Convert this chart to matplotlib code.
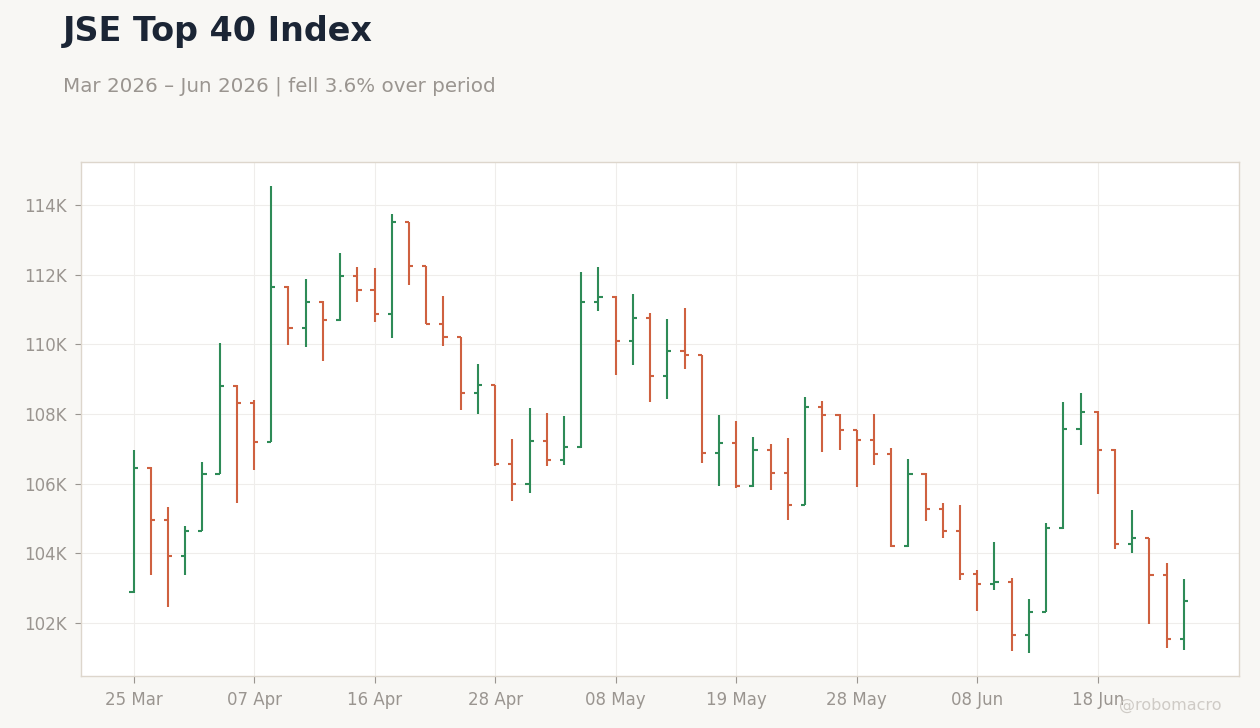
import numpy as np
import pandas as pd
import matplotlib
matplotlib.use("Agg")
import matplotlib.pyplot as plt
from matplotlib.ticker import FuncFormatter

# trading days, JSE holidays removed
start_date = "2026-03-25"
end_date = "2026-06-25"
holidays = ["2026-04-03", "2026-04-06", "2026-04-27", "2026-05-01", "2026-06-16"]

opens = [102890, 106460, 104960, 103920, 104650, 106280, 108810, 108330, 107200, 111660,
         110460, 111230, 110690, 111950, 111550, 110860, 113500, 112240, 110590, 110200,
         108590, 108820, 106570, 106000, 107240, 106690, 107040, 111230, 111350, 110110,
         110770, 109090, 109820, 109690, 106880, 107170, 105920, 106960, 106300, 105400,
         108200, 107970, 107540, 107250, 106850, 104200, 106270, 105260, 104630, 103420,
         103130, 103190, 101660, 102330, 104720, 107570, 108060, 106960, 104280, 104430,
         103390, 101550]
highs = [106970, 106470, 105320, 104800, 106620, 110030, 108820, 108400, 114560, 111670,
         111880, 111240, 112630, 112220, 112190, 113750, 113510, 112250, 111400, 110210,
         109440, 108830, 107290, 108180, 108030, 107950, 112080, 112230, 111390, 111440,
         110900, 110730, 111050, 109700, 107960, 107790, 107330, 107130, 107300, 108480,
         108370, 108010, 107550, 107990, 107030, 106720, 106320, 105460, 105400, 103530,
         104330, 103290, 102690, 104880, 108340, 108600, 108100, 107010, 105250, 104440,
         103730, 103270]
lows = [102870, 103390, 102470, 103390, 104640, 106270, 105440, 106400, 107190, 109970,
        109910, 109510, 110680, 111230, 110630, 110170, 111690, 110580, 109940, 108130,
        107990, 106520, 105510, 105740, 106520, 106550, 107030, 110970, 109130, 109400,
        108350, 108430, 109300, 106590, 105930, 105870, 105910, 105810, 104950, 105390,
        106910, 106960, 105900, 106530, 104190, 104190, 104920, 104430, 103250, 102350,
        102960, 101200, 101140, 102320, 104710, 107110, 105700, 104140, 104000, 101980,
        101290, 101230]
closes = [106460, 104960, 103920, 104650, 106280, 108810, 108330, 107200, 111660, 110460,
          111230, 110690, 111950, 111550, 110860, 113500, 112240, 110590, 110200, 108590,
          108820, 106570, 106000, 107240, 106690, 107040, 111230, 111350, 110110, 110770,
          109090, 109820, 109690, 106880, 107170, 105920, 106960, 106300, 105400, 108200,
          107970, 107540, 107250, 106850, 104200, 106270, 105260, 104630, 103420, 103130,
          103190, 101660, 102330, 104720, 107570, 108060, 106960, 104280, 104430, 103390,
          101550, 102640]

UP = "#2e8b57"
DOWN = "#cf6140"
BG = "#f8f7f4"
MUTED = "#9a9590"

dates = pd.bdate_range(start_date, end_date, freq="C", holidays=holidays)
o = np.array(opens)
h = np.array(highs)
l = np.array(lows)
c = np.array(closes)
x = np.arange(len(o))
colors = np.where(c >= o, UP, DOWN)

fig = plt.figure(figsize=(12.6, 7.28), dpi=100, facecolor=BG)
ax = fig.add_axes([81 / 1260, 52 / 728, 1158 / 1260, 514 / 728])
ax.set_facecolor("white")

tw = 0.24  # open/close tick length in bar units
ax.vlines(x, l, h, colors=colors, linewidth=1.5)
ax.hlines(o, x - tw, x, colors=colors, linewidth=1.5)
ax.hlines(c, x, x + tw, colors=colors, linewidth=1.5)

ax.set_xlim(-3.05, len(x) + 2.2)
ax.set_ylim(100480, 115235)

tick_pos = x[::7]
ax.set_xticks(tick_pos)
ax.set_xticklabels([dates[i].strftime("%d %b") for i in tick_pos])
ax.set_yticks(np.arange(102000, 115000, 2000))
ax.yaxis.set_major_formatter(FuncFormatter(lambda v, p: f"{v / 1000:.0f}K"))

ax.grid(True, color="#efedeb", linewidth=0.8)
ax.set_axisbelow(True)
for s in ax.spines.values():
    s.set_color("#ddd6cc")
    s.set_linewidth(1)
ax.tick_params(colors=MUTED, labelsize=12, length=4, width=0.8, pad=6)
ax.tick_params(axis="x", length=5)

pct = (c[-1] / c[0] - 1) * 100
word = "fell" if pct < 0 else "rose"
fig.text(63 / 1260, 1 - 41 / 728, "JSE Top 40 Index", fontsize=24, fontweight="bold",
         color="#1b2535", va="baseline")
fig.text(63 / 1260, 1 - 92 / 728,
         f"{dates[0]:%b %Y} – {dates[-1]:%b %Y} | {word} {abs(pct):.1f}% over period",
         fontsize=14.3, color=MUTED, va="baseline")
fig.text(1222 / 1260, 1 - 710 / 728, "@robomacro", fontsize=11.5, color="#cfcbc6",
         ha="right", va="baseline")

fig.savefig("out.png", dpi=100, facecolor=BG)
